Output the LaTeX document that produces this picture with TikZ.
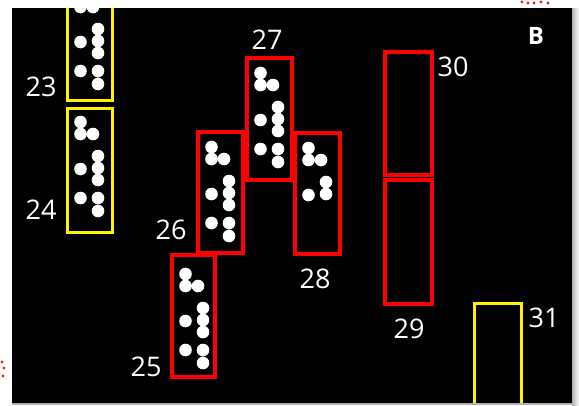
\documentclass[tikz,border=0pt]{standalone}
\usepackage{fontspec}
\setmainfont{Open Sans}
\newcommand\cellGA{\fill[white] (13.5,15) circle (6.3) (13.5,27) circle (6.3) (26,27) circle (6.3);}
\newcommand\cellGB{\fill[white] (31,49) circle (6.3) (31,61) circle (6.3) (31,73) circle (6.3) (13.5,62) circle (6.3);}
\newcommand\cellGBs{\fill[white] (31,49) circle (6.3) (31,61) circle (6.3) (13.5,62) circle (6.3);}
\newcommand\cellGC{\fill[white] (13.5,91) circle (6.3) (31,91) circle (6.3) (31,104) circle (6.3);}
\begin{document}
\begin{tikzpicture}[x=1pt,y=-1pt,
  redbox/.style={draw=red, line width=3.2pt},
  yelbox/.style={draw=yellow, line width=3pt},
  lbl/.style={text=white, font=\fontsize{27}{27}\selectfont, inner sep=0pt, anchor=center},
  strayred/.style={fill=red!90}]
\useasboundingbox (0,0) rectangle (579,405);
% background panel
\fill[black] (12,8) rectangle (572,403);
\shade[left color=gray!60, right color=white] (572,8) rectangle (579,405);
\fill[gray!60] (12,403) rectangle (572,405);
% stray red dots outside the panel
\foreach \p in {(522,2),(528,3),(534,3),(541,2),(548,3),(2,362),(4,368),(3,376)}
  \fill[strayred] \p circle (1.6);
% braille cells
\begin{scope}[shift={(67,-20)}]\cellGA\cellGB\cellGC\end{scope}
\begin{scope}[shift={(67,107)}]\cellGA\cellGB\cellGC\end{scope}
\begin{scope}[shift={(198,132)}]\cellGA\cellGB\cellGC\end{scope}
\begin{scope}[shift={(247,58)}]\cellGA\cellGB\cellGC\end{scope}
\begin{scope}[shift={(295,133)}]\cellGA\cellGBs\end{scope}
\begin{scope}[shift={(172,259)}]\cellGA\cellGB\cellGC\end{scope}
% boxes
\draw[yelbox] (67,8) -- (67,100) -- (112,100) -- (112,8);
\draw[yelbox] (67,108) rectangle (112,232);
\draw[redbox] (172,255) rectangle (215,377);
\draw[redbox] (198,132) rectangle (243,253);
\draw[redbox] (247,58) rectangle (292,180);
\draw[redbox] (295,133) rectangle (340,254);
\draw[redbox] (385,52) rectangle (432,175);
\draw[redbox] (385,180) rectangle (432,304);
\draw[yelbox] (474,403) -- (474,303) -- (521,303) -- (521,403);
% labels
\node[lbl] (l23) at (41,87) {23};
\node[lbl] (l24) at (41,210) {24};
\node[lbl] (l26) at (171,230) {26};
\node[lbl] (l27) at (267,40) {27};
\node[lbl] (l28) at (315,279) {28};
\node[lbl] (l25) at (146,367) {25};
\node[lbl] (l30) at (453,67) {30};
\node[lbl] (l29) at (409,329) {29};
\node[lbl] (l31) at (544,318) {31};
\node[text=white, font=\fontsize{24}{24}\selectfont\bfseries, inner sep=0pt] (lB) at (536,36) {B};
\end{tikzpicture}
\end{document}
